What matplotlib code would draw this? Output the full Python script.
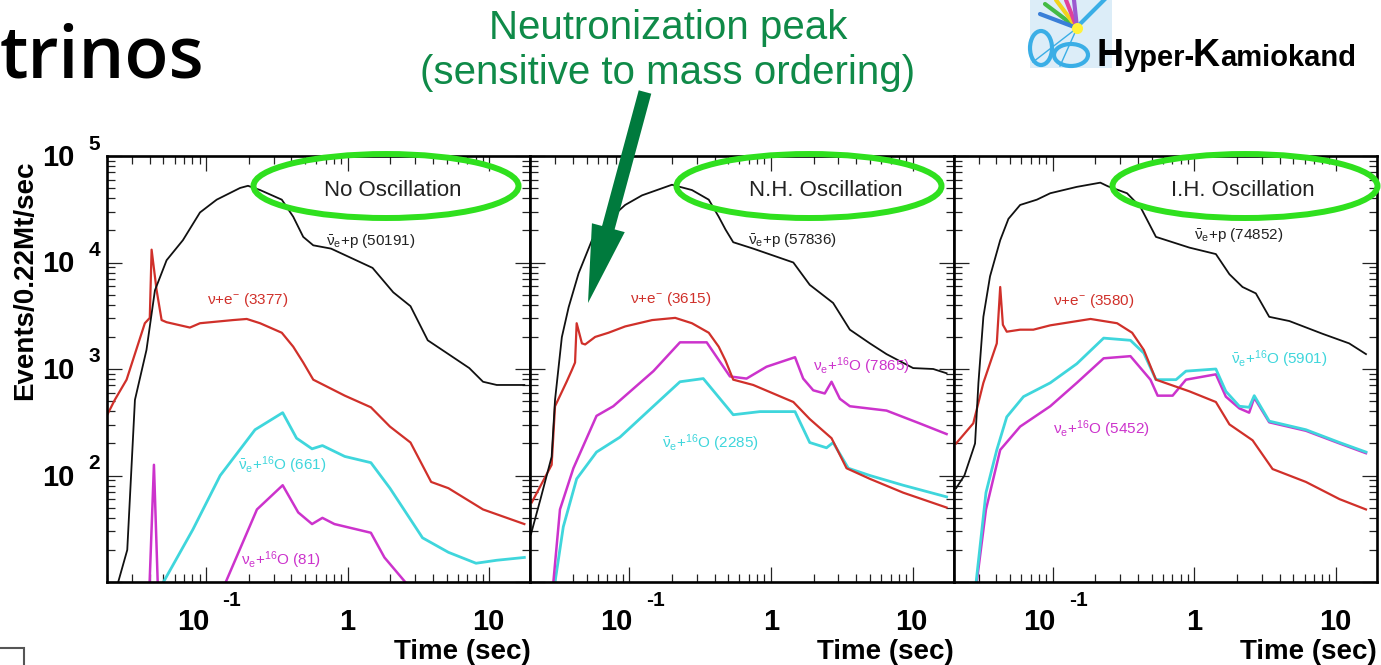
import matplotlib
matplotlib.use("Agg")
import matplotlib.pyplot as plt
import matplotlib.transforms as mtransforms
from matplotlib.patches import Ellipse, FancyArrow, Rectangle
from matplotlib.ticker import NullFormatter
import numpy as np

plt.rcParams['font.family'] = ['Liberation Sans', 'DejaVu Sans']
plt.rcParams['mathtext.fontset'] = 'custom'
plt.rcParams['mathtext.rm'] = 'Liberation Sans'
plt.rcParams['mathtext.it'] = 'Liberation Sans:italic'
plt.rcParams['mathtext.bf'] = 'Liberation Sans:bold'

nan = np.nan

# ---- No oscillation (time in sec, events / 0.22Mt / sec)
no_p_t = [0.024, 0.0278, 0.0315, 0.038, 0.0436, 0.0527, 0.0687, 0.0907, 0.119, 0.174, 0.198, 0.241,
          0.343, 0.413, 0.486, 0.572, 0.764, 1.5, 2.1, 2.78, 3.68, 5.15, 7.23, 9.04, 11.3, 17.7]
no_p_n = [10, 20, 513, 1510, 5480, 10500, 16200, 29500, 38900, 50100, 52500, 47900,
          38900, 26900, 17400, 14500, 13500, 8900, 5250, 3890, 1860, 1380, 1020, 759, 708, 708]
no_e_t = [0.0199, 0.0227, 0.0275, 0.037, 0.0401, 0.0413, 0.0448, 0.0486, 0.0527, 0.077, 0.0907,
          0.155, 0.194, 0.241, 0.343, 0.413, 0.486, 0.572, 0.955, 1.46, 1.99, 2.78, 3.89, 5.15,
          9.04, 17.7]
no_e_n = [363, 513, 794, 2690, 3020, 13200, 5500, 2880, 2750, 2450, 2690,
          2880, 2950, 2690, 2190, 1620, 1150, 794, 562, 437, 288, 204, 87, 76, 48, 35]
no_obar_t = [0.0501, 0.0807, 0.126, 0.222, 0.348, 0.436, 0.561, 0.664, 0.955, 1.46, 1.99,
             3.38, 5.15, 8.07, 11.3, 17.7]
no_obar_n = [10, 31, 100, 269, 389, 224, 178, 191, 151, 132, 76, 26, 19, 15, 16, 17]
no_o_t = [0.040, 0.0429, 0.0456, nan, 0.138, 0.229, 0.348, 0.448, 0.561, 0.664, 0.807, 1.46, 1.82, 2.55]
no_o_n = [10, 126, 10, nan, 10, 48, 81, 45, 35, 40, 35, 29, 17, 10]

# ---- N.H. oscillation
nh_p_t = [0.0202, 0.0236, 0.0283, 0.0299, 0.0334, 0.0373, 0.0439, 0.0545, 0.0713, 0.0935, 0.123,
          0.2, 0.277, 0.364, 0.428, 0.478, 0.542, 0.75, 1.44, 1.88, 2.75, 3.61, 5.0, 6.55, 10.1,
          14.0, 17.4]
nh_p_n = [28, 60, 150, 513, 1990, 3800, 7940, 16200, 25100, 34700, 42700,
          53700, 47900, 38900, 26900, 20400, 15500, 13500, 10000, 6170, 4170, 2340, 1740, 1380, 1020,
          1000, 912]
nh_e_t = [0.0205, 0.0283, 0.0299, 0.0361, 0.0393, 0.0414, 0.0425, 0.0463, 0.0488, 0.0574, 0.0713,
          0.0935, 0.145, 0.211, 0.277, 0.364, 0.428, 0.478, 0.542, 0.75, 1.44, 1.88, 2.68, 3.42,
          5.0, 8.59, 17.4]
nh_e_n = [56, 126, 447, 759, 977, 1150, 2690, 1740, 1700, 2000, 2190,
          2510, 2880, 3020, 2690, 2190, 1620, 1200, 794, 708, 490, 339, 224, 117, 93, 69, 50]
nh_o_t = [0.0291, 0.0324, 0.0403, 0.0587, 0.0771, 0.148, 0.228, 0.352, 0.514, 0.673, 0.931,
          1.48, 1.69, 1.99, 2.40, 2.68, 3.07, 3.61, 6.55, 11.2, 17.4]
nh_o_n = [10, 48, 117, 363, 447, 955, 1780, 1780, 851, 813, 1050,
          1290, 813, 631, 589, 759, 525, 447, 407, 309, 245]
nh_obar_t = [0.0299, 0.0342, 0.0425, 0.0587, 0.0859, 0.148, 0.228, 0.333, 0.542, 0.836, 1.48,
             1.88, 2.47, 2.75, 3.52, 5.0, 8.59, 17.4]
nh_obar_n = [10, 33, 93, 166, 229, 447, 759, 813, 372, 398, 398, 204, 182, 204, 117, 100, 81, 63]

# ---- I.H. oscillation
ih_p_t = [0.0208, 0.0238, 0.0272, 0.0283, 0.0299, 0.0324, 0.0361, 0.0426, 0.0487, 0.0589, 0.0773,
          0.0961, 0.148, 0.217, 0.245, 0.335, 0.417, 0.49, 0.536, 0.923, 1.42, 1.77, 2.19, 2.72,
          3.38, 4.69, 8.05, 12.4, 16.3]
ih_p_n = [76, 100, 170, 200, 741, 3090, 7410, 16200, 25700, 34700, 38900,
          44700, 51300, 56200, 52000, 44700, 33100, 21900, 17400, 13800, 12000, 7760, 5890, 5130,
          3090, 2820, 2140, 1740, 1380]
ih_e_t = [0.0208, 0.0275, 0.0324, 0.0403, 0.0426, 0.0445, 0.0474, 0.0589, 0.073, 0.0961, 0.185,
          0.285, 0.364, 0.44, 0.536, 0.923, 1.42, 1.77, 2.58, 3.57, 6.14, 10.6, 16.3]
ih_e_n = [200, 309, 741, 1740, 5890, 2600, 2240, 2340, 2340, 2570, 2950,
          2690, 2190, 1510, 794, 617, 490, 302, 214, 115, 87, 60, 48]
ih_o_t = [0.0291, 0.0338, 0.0426, 0.0589, 0.0961, 0.148, 0.229, 0.354, 0.49, 0.551, 0.703,
          0.873, 1.42, 1.67, 2.08, 2.44, 2.65, 3.38, 6.14, 10.6, 16.3]
ih_o_n = [10, 48, 174, 288, 447, 741, 1260, 1320, 794, 562, 562,
          794, 891, 550, 427, 389, 537, 316, 263, 200, 162]
ih_obar_t = [0.0288, 0.0338, 0.0403, 0.0474, 0.0622, 0.0961, 0.148, 0.229, 0.354, 0.44, 0.536,
             0.743, 0.873, 1.42, 1.67, 2.08, 2.44, 2.65, 3.38, 6.14, 10.6, 16.3]
ih_obar_n = [10, 69, 174, 355, 550, 741, 1120, 1950, 1860, 1410, 794,
             794, 955, 1000, 617, 447, 437, 562, 324, 269, 204, 166]

titles = ["No Oscillation", "N.H. Oscillation", "I.H. Oscillation"]
p_counts = [50191, 57836, 74852]
e_counts = [3377, 3615, 3580]
obar_counts = [661, 2285, 5901]
o_counts = [81, 7865, 5452]

C_BLACK = '#111111'
C_RED = '#d0302a'
C_CYAN = '#3fd6dc'
C_MAG = '#cc33cc'

fig = plt.figure(figsize=(13.81, 6.65), dpi=100)
fig.patch.set_facecolor('white')

W, H = 1381.0, 665.0
ax_left = [107, 530.3, 953.7]
ax_w = 423.3
ax_top, ax_bot = 156, 582

axes = []
for i in range(3):
    ax = fig.add_axes([ax_left[i] / W, (H - ax_bot) / H, ax_w / W, (ax_bot - ax_top) / H])
    ax.set_xscale('log')
    ax.set_yscale('log')
    ax.set_xlim(0.02, 19.5)
    ax.set_ylim(10, 1e5)
    ax.xaxis.set_major_formatter(NullFormatter())
    ax.xaxis.set_minor_formatter(NullFormatter())
    ax.yaxis.set_major_formatter(NullFormatter())
    ax.yaxis.set_minor_formatter(NullFormatter())
    ax.tick_params(which='both', direction='in', top=True, right=True, width=0.9, color='#222')
    ax.tick_params(which='major', length=11)
    ax.tick_params(which='minor', length=5.5)
    for s in ax.spines.values():
        s.set_linewidth(1.9)
    axes.append(ax)

series = [
    [(no_p_t, no_p_n), (no_e_t, no_e_n), (no_obar_t, no_obar_n), (no_o_t, no_o_n)],
    [(nh_p_t, nh_p_n), (nh_e_t, nh_e_n), (nh_obar_t, nh_obar_n), (nh_o_t, nh_o_n)],
    [(ih_p_t, ih_p_n), (ih_e_t, ih_e_n), (ih_obar_t, ih_obar_n), (ih_o_t, ih_o_n)],
]

for i, ax in enumerate(axes):
    p, e, ob, o = series[i]
    if i == 2:
        ax.plot(o[0], o[1], color=C_MAG, lw=1.8)
        ax.plot(ob[0], ob[1], color=C_CYAN, lw=2.0)
    else:
        ax.plot(ob[0], ob[1], color=C_CYAN, lw=2.0)
        ax.plot(o[0], o[1], color=C_MAG, lw=1.8)
    ax.plot(e[0], e[1], color=C_RED, lw=1.6)
    ax.plot(p[0], p[1], color=C_BLACK, lw=1.3)

# curve labels
lab_fs = 11
lbl_p = r"$\mathrm{\bar{\nu}_e{+}p}$ (%d)"
lbl_e = r"$\mathrm{\nu{+}e^{-}}$ (%d)"
lbl_ob = r"$\mathrm{\bar{\nu}_e{+}^{16}O}$ (%d)"
lbl_o = r"$\mathrm{\nu_e{+}^{16}O}$ (%d)"

axes[0].text(0.70, 16000, lbl_p % p_counts[0], color='#222', fontsize=lab_fs, va='center')
axes[0].text(0.101, 4400, lbl_e % e_counts[0], color=C_RED, fontsize=lab_fs, va='center')
axes[0].text(0.167, 126, lbl_ob % obar_counts[0], color=C_CYAN, fontsize=lab_fs, va='center')
axes[0].text(0.177, 16, lbl_o % o_counts[0], color=C_MAG, fontsize=lab_fs, va='center')

axes[1].text(0.69, 16200, lbl_p % p_counts[1], color='#222', fontsize=lab_fs, va='center')
axes[1].text(0.101, 4570, lbl_e % e_counts[1], color=C_RED, fontsize=lab_fs, va='center')
axes[1].text(1.99, 1070, lbl_o % o_counts[1], color=C_MAG, fontsize=lab_fs, va='center')
axes[1].text(0.169, 200, lbl_ob % obar_counts[1], color=C_CYAN, fontsize=lab_fs, va='center')

axes[2].text(1.0, 18200, lbl_p % p_counts[2], color='#222', fontsize=lab_fs, va='center')
axes[2].text(0.1, 4370, lbl_e % e_counts[2], color=C_RED, fontsize=lab_fs, va='center')
axes[2].text(1.82, 1230, lbl_ob % obar_counts[2], color=C_CYAN, fontsize=lab_fs, va='center')
axes[2].text(0.1, 275, lbl_o % o_counts[2], color=C_MAG, fontsize=lab_fs, va='center')

title_x = [0.674, 0.697, 0.683]
for i, ax in enumerate(axes):
    ax.text(title_x[i], 0.92, titles[i], transform=ax.transAxes, ha='center', va='center',
            fontsize=16, color='#222')


def off(tr, dx, dy):
    return mtransforms.offset_copy(tr, fig=fig, x=dx, y=dy, units='dots')


# ROOT style tick labels
for ax in axes:
    tr = ax.get_xaxis_transform()
    ax.text(0.1, 0, "10", transform=off(tr, -13, -40), ha='center', va='center',
            fontsize=21, fontweight='bold')
    ax.text(0.1, 0, "-1", transform=off(tr, 26, -18), ha='center', va='center',
            fontsize=15, fontweight='bold')
    ax.text(1, 0, "1", transform=off(tr, 0, -40), ha='center', va='center',
            fontsize=21, fontweight='bold')
    ax.text(10, 0, "10", transform=off(tr, -1, -40), ha='center', va='center',
            fontsize=21, fontweight='bold')
    ax.text(1, 0, "Time (sec)", transform=off(ax.transAxes, 0, -70), ha='right', va='center',
            fontsize=20, fontweight='bold')

tr = axes[0].get_yaxis_transform()
for k in [2, 3, 4, 5]:
    axes[0].text(0, 10.0 ** k, "10", transform=off(tr, -49, -2), ha='center', va='center',
                 fontsize=21, fontweight='bold')
    axes[0].text(0, 10.0 ** k, str(k), transform=off(tr, -13, 12), ha='center', va='center',
                 fontsize=15, fontweight='bold')

fig.text(25 / W, 1 - 280 / H, "Events/0.22Mt/sec", rotation=90, ha='center', va='center',
         fontsize=20, fontweight='bold')

# slide overlay (pixel coordinates)
ov = fig.add_axes([0, 0, 1, 1], zorder=10)
ov.set_xlim(0, W)
ov.set_ylim(H, 0)
ov.axis('off')

for cx in [386, 809, 1245]:
    ov.add_patch(Ellipse((cx, 186), 265, 64, fill=False, edgecolor='#2fe01e', lw=4.3))

ov.add_patch(FancyArrow(645, 92, -57, 211, width=13, head_width=34, head_length=78,
                        length_includes_head=True, color='#007a3d', lw=0))

ov.text(668, 28, "Neutronization peak", ha='center', va='center', fontsize=29, color='#0f8a48')
ov.text(668, 73, "(sensitive to mass ordering)", ha='center', va='center', fontsize=29,
        color='#0f8a48')

ov.text(0, 77, "trinos", ha='left', va='baseline', fontsize=52, family=['Open Sans', 'DejaVu Sans'],
        fontweight='semibold', color='black')

# Hyper-K logo
ov.add_patch(Rectangle((1030, 0), 82, 68, facecolor='#dcedf8', edgecolor='none'))
for (x2, y2, c) in [(1045, 4, '#44bb44'), (1056, 0, '#f2d21b'), (1066, 0, '#e0409a'),
                    (1040, 14, '#3a7fd8'), (1074, 0, '#9b59d0')]:
    ov.plot([1077, x2], [28, y2], color=c, lw=3, solid_capstyle='round')
ov.plot([1077, 1033], [28, 62], color='#3aaee6', lw=1)
ov.plot([1077, 1060], [28, 66], color='#3aaee6', lw=1)
ov.plot([1080, 1104], [24, 0], color='#3aaee6', lw=3)
ov.add_patch(Ellipse((1041, 48), 22, 34, fill=False, edgecolor='#3aaee6', lw=3))
ov.add_patch(Ellipse((1071, 55), 34, 22, fill=False, edgecolor='#3aaee6', lw=3))
ov.plot([1077], [28], marker='o', color='#fff23a', ms=8, mec='none')
ov.text(1097, 66, "H", fontsize=27, fontweight='bold', va='baseline')
ov.text(1124, 66, "yper-", fontsize=21, fontweight='bold', va='baseline')
ov.text(1193, 66, "K", fontsize=27, fontweight='bold', va='baseline')
ov.text(1220, 66, "amiokand", fontsize=21, fontweight='bold', va='baseline')

ov.add_patch(Rectangle((-3, 648), 27, 20, fill=False, edgecolor='#555', lw=1.5))

fig.savefig("out.png", dpi=100)
